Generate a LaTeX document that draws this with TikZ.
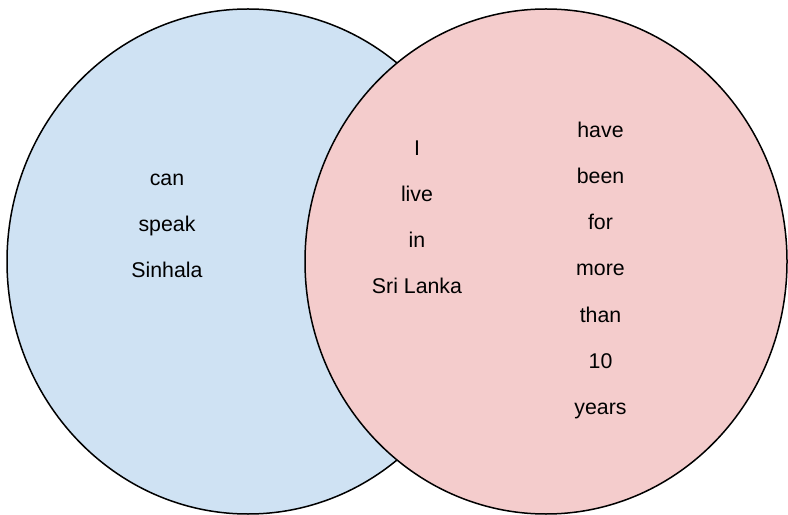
\documentclass[tikz,border=0pt]{standalone}
\usepackage{fontspec}
\setmainfont{Liberation Sans}
\definecolor{setblue}{HTML}{CFE2F3}
\definecolor{setred}{HTML}{F4CCCC}
\begin{document}
\begin{tikzpicture}[x=1bp,y=-1bp,
  setshape/.style={draw=black,line width=1.5bp},
  word/.style={anchor=base,inner sep=0pt,font=\fontsize{21.4}{24}\selectfont}]
\useasboundingbox (0,0) rectangle (788,515);
% the two overlapping sets
\path[setshape,fill=setblue] (248,261.5) ellipse [x radius=241,y radius=252.5];
\path[setshape,fill=setred] (546,261.5) ellipse [x radius=241,y radius=252.5];
% left set
\node[word] (can) at (167,186) {can};
\node[word] (speak) at (167,232) {speak};
\node[word] (sinhala) at (167,278) {Sinhala};
% overlap column
\node[word] (i) at (417,156) {I};
\node[word] (live) at (417,202) {live};
\node[word] (in) at (417,248) {in};
\node[word] (srilanka) at (417,293.5) {Sri Lanka};
% right set
\node[word] (have) at (600.5,138) {have};
\node[word] (been) at (600.5,184) {been};
\node[word] (for) at (600.5,230) {for};
\node[word] (more) at (600.5,276) {more};
\node[word] (than) at (600.5,322) {than};
\node[word] (ten) at (600.5,368) {10};
\node[word] (years) at (600.5,414) {years};
\end{tikzpicture}
\end{document}
